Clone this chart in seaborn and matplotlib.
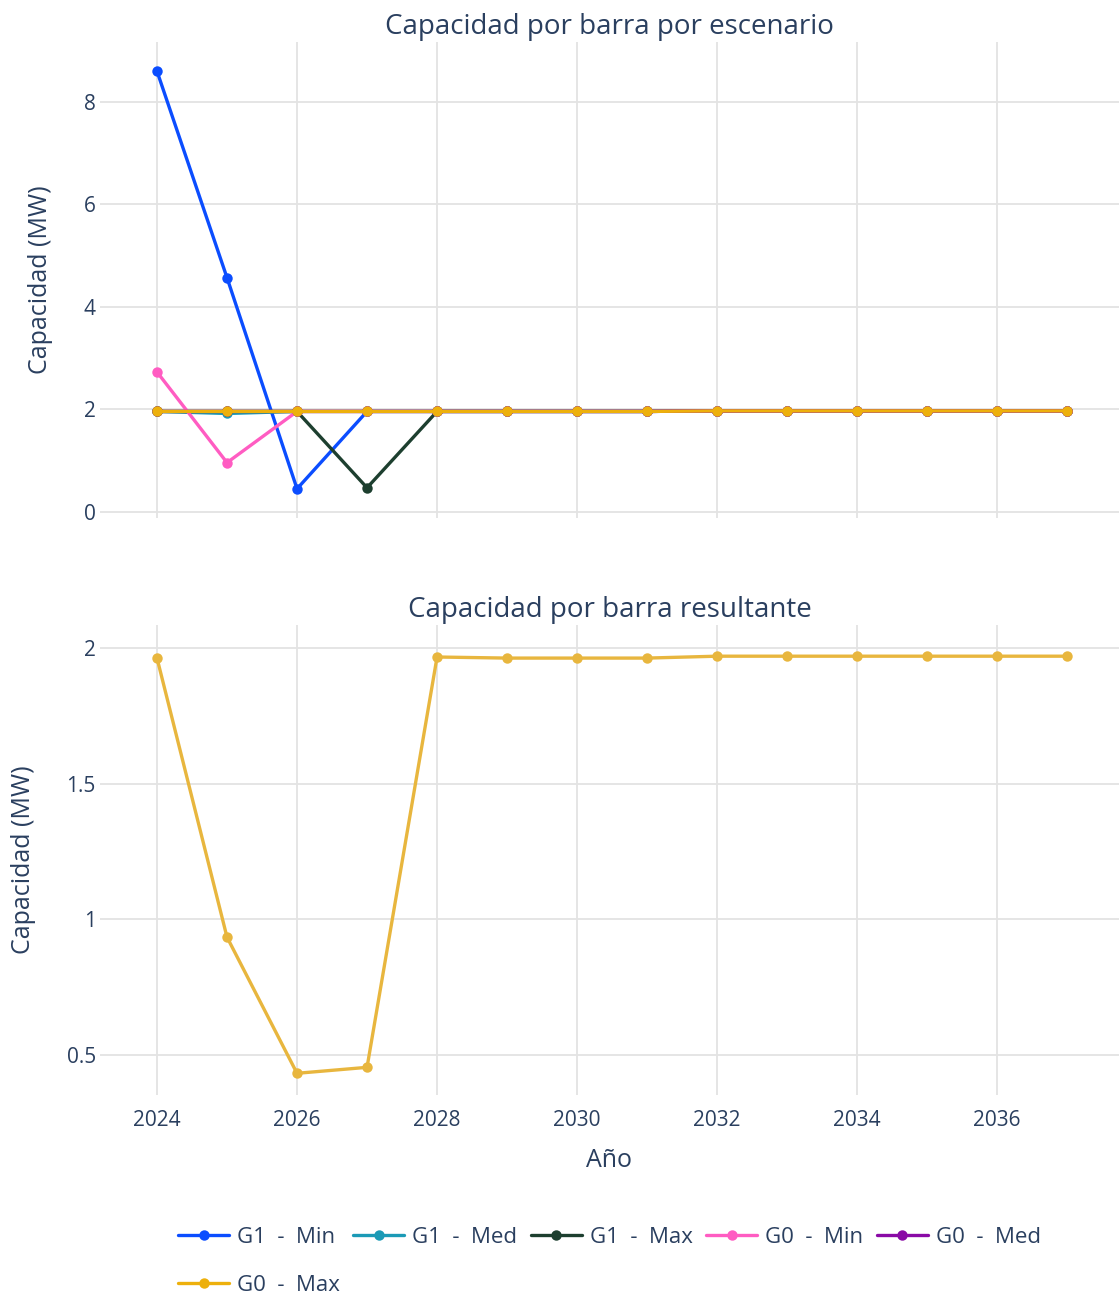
import pandas as pd
import numpy as np
import matplotlib
matplotlib.use('Agg')
import matplotlib.pyplot as plt
import seaborn as sns
from matplotlib.ticker import FuncFormatter

# Datos
anios = list(range(2024, 2038))
series = ['G1  -  Min', 'G1  -  Med', 'G1  -  Max', 'G0  -  Min', 'G0  -  Med', 'G0  -  Max']
colores = ['#0b4dff', '#1b9ab6', '#1d3f2f', '#ff5cc2', '#8a0aa6', '#edb00c']

g1_min = [8.60, 4.57, 0.45, 1.96, 1.96, 1.96, 1.96, 1.96, 1.97, 1.97, 1.97, 1.97, 1.97, 1.97]
g1_med = [1.96, 1.92, 1.96, 1.96, 1.96, 1.96, 1.96, 1.96, 1.97, 1.97, 1.97, 1.97, 1.97, 1.97]
g1_max = [1.96, 1.96, 1.96, 0.47, 1.96, 1.96, 1.96, 1.96, 1.97, 1.97, 1.97, 1.97, 1.97, 1.97]
g0_min = [2.73, 0.96, 1.96, 1.96, 1.96, 1.96, 1.96, 1.96, 1.97, 1.97, 1.97, 1.97, 1.97, 1.97]
g0_med = [1.96, 1.96, 1.96, 1.96, 1.96, 1.96, 1.96, 1.96, 1.97, 1.97, 1.97, 1.97, 1.97, 1.97]
g0_max = [1.96, 1.96, 1.96, 1.96, 1.96, 1.96, 1.96, 1.96, 1.97, 1.97, 1.97, 1.97, 1.97, 1.97]

resultante = [1.963, 0.934, 0.432, 0.454, 1.967, 1.963, 1.963, 1.963, 1.970, 1.970, 1.970, 1.970, 1.970, 1.970]

valores = [g1_min, g1_med, g1_max, g0_min, g0_med, g0_max]
df = pd.concat([pd.DataFrame({'Año': anios, 'Capacidad': v, 'Serie': s}) for s, v in zip(series, valores)],
               ignore_index=True)
df_res = pd.DataFrame({'Año': anios, 'Capacidad': resultante})

sns.set_style('white')
plt.rcParams['font.family'] = ['Open Sans', 'DejaVu Sans']
texto = '#2a3f5f'
grid = '#e3e3e3'

fig = plt.figure(figsize=(11.19, 12.95), dpi=100)
ax1 = fig.add_axes([100 / 1119, 1 - 518 / 1295, 1 - 100 / 1119, 476 / 1295])
ax2 = fig.add_axes([100 / 1119, 1 - 1095 / 1295, 1 - 100 / 1119, 470 / 1295])

# Gráfico superior: por escenario
sns.lineplot(data=df, x='Año', y='Capacidad', hue='Serie', hue_order=series,
             palette=dict(zip(series, colores)), marker='o', markersize=7.5,
             markeredgewidth=0, linewidth=2.4, ax=ax1)
# Gráfico inferior: resultante
sns.lineplot(data=df_res, x='Año', y='Capacidad', color='#e8b63e', marker='o',
             markersize=7.5, markeredgewidth=0, linewidth=2.4, ax=ax2)

handles, labels = ax1.get_legend_handles_labels()
ax1.get_legend().remove()
# orden para que la leyenda se lea por filas
orden = [0, 5, 1, 2, 3, 4]
handles = [handles[i] for i in orden]
labels = [labels[i] for i in orden]

fmt = FuncFormatter(lambda v, p: f'{v:g}')
for ax in (ax1, ax2):
    ax.set_xlim(2023.186, 2037.74)
    ax.set_xticks(range(2024, 2037, 2))
    ax.grid(True, color=grid, linewidth=1.3)
    ax.set_axisbelow(True)
    for s in ax.spines.values():
        s.set_visible(False)
    ax.tick_params(colors=texto, labelsize=15, length=0, pad=3)
    ax.tick_params(axis='x', pad=11)
    ax.yaxis.set_major_formatter(fmt)
    ax.set_ylabel('Capacidad (MW)', fontsize=18, color=texto, labelpad=22)

ax1.set_ylim(-0.12, 9.17)
ax1.set_yticks([0, 2, 4, 6, 8])
ax1.set_xlabel('')
ax1.tick_params(axis='x', labelbottom=False, length=7, width=1.3, color=grid)
ax1.set_title('Capacidad por barra por escenario', fontsize=20, color=texto, pad=6)

ax2.set_ylim(0.352, 2.085)
ax2.set_yticks([0.5, 1, 1.5, 2])
ax2.set_xlabel('Año', fontsize=18, color=texto, labelpad=12)
ax2.set_title('Capacidad por barra resultante', fontsize=20, color=texto, pad=6)

fig.legend(handles, labels, loc='upper left', bbox_to_anchor=(178 / 1119, 1 - 1227 / 1295),
           ncol=5, frameon=False, fontsize=16, handlelength=2.3, handletextpad=0.36,
           columnspacing=0.6, labelspacing=1.2, borderpad=0, borderaxespad=0,
           labelcolor=texto)

fig.savefig('out.png', dpi=100)
